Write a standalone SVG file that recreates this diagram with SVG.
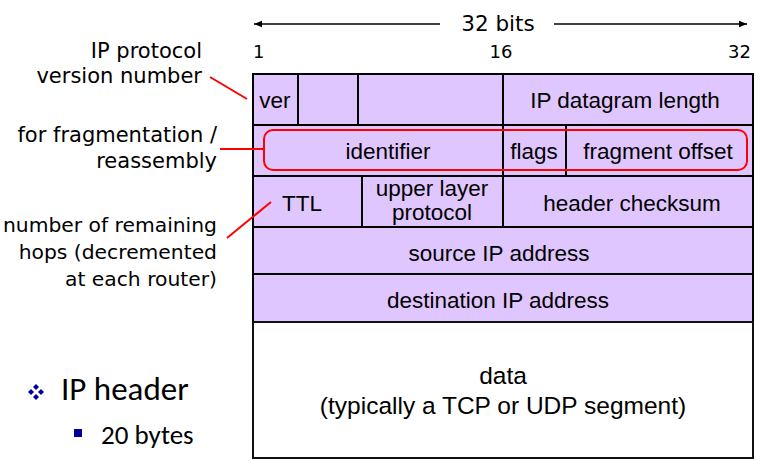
<svg xmlns="http://www.w3.org/2000/svg" width="780" height="472" viewBox="0 0 780 472">
<defs>
<marker id="ah" viewBox="0 0 10 10" refX="10" refY="5" markerWidth="10" markerHeight="8" markerUnits="userSpaceOnUse" orient="auto-start-reverse"><path d="M0,1 L10,5 L0,9 z" fill="#000"/></marker>
<style>
.cell{fill:#e0c6fe;stroke:#000;stroke-width:2}
.data{fill:#fff;stroke:#111;stroke-width:2}
.div{stroke:#000;stroke-width:2}
.t{font-family:"Liberation Sans",Arial,sans-serif;font-size:22.5px;fill:#000;text-anchor:middle}
.c{font-family:"DejaVu Sans","Comic Sans MS",sans-serif;font-size:21px;fill:#000}
.r{text-anchor:end}
.s{font-size:20.3px}
.red{stroke:#f00;stroke-width:2;fill:none}
.b{font-family:Carlito,Calibri,"Open Sans",sans-serif;fill:#000}
</style>
</defs>
<rect width="780" height="472" fill="#fff"/>

<g id="scale">
<line x1="254" y1="24" x2="440" y2="24" stroke="#000" stroke-width="1.5" marker-start="url(#ah)"/>
<line x1="554" y1="24" x2="747" y2="24" stroke="#000" stroke-width="1.5" marker-end="url(#ah)"/>
<text class="c" x="498" y="31" text-anchor="middle" style="font-size:21.5px">32 bits</text>
<text class="c" x="253" y="58" style="font-size:18px">1</text>
<text class="c" x="501" y="58" text-anchor="middle" style="font-size:18px">16</text>
<text class="c" x="751" y="58" text-anchor="end" style="font-size:18px">32</text>
</g>

<g id="row1">
<rect class="cell" x="253" y="74" width="500" height="51"/>
<line class="div" x1="298" y1="74" x2="298" y2="125"/>
<line class="div" x1="358" y1="74" x2="358" y2="125"/>
<line class="div" x1="503" y1="74" x2="503" y2="125"/>
<text class="t" x="275" y="108">ver</text>
<text class="t" x="625" y="108">IP datagram length</text>
</g>
<g id="row2">
<rect class="cell" x="253" y="125" width="500" height="51"/>
<line class="div" x1="503" y1="125" x2="503" y2="176"/>
<line class="div" x1="566" y1="125" x2="566" y2="176"/>
<text class="t" x="388" y="159">identifier</text>
<text class="t" x="534" y="159">flags</text>
<text class="t" x="658" y="159">fragment offset</text>
</g>
<g id="row3">
<rect class="cell" x="253" y="176" width="500" height="51"/>
<line class="div" x1="362" y1="176" x2="362" y2="227"/>
<line class="div" x1="503" y1="176" x2="503" y2="227"/>
<text class="t" x="302" y="211">TTL</text>
<text class="t" x="432" y="196">upper layer</text>
<text class="t" x="432" y="220">protocol</text>
<text class="t" x="632" y="211">header checksum</text>
</g>
<g id="row4">
<rect class="cell" x="253" y="227" width="500" height="47"/>
<text class="t" x="499" y="261">source IP address</text>
</g>
<g id="row5">
<rect class="cell" x="253" y="274" width="500" height="48"/>
<text class="t" x="498" y="308">destination IP address</text>
</g>
<g id="data">
<rect class="data" x="253" y="322" width="500" height="136"/>
<text class="t" x="503" y="384" style="font-size:24.5px">data</text>
<text class="t" x="503" y="414" style="font-size:24.5px">(typically a TCP or UDP segment)</text>
</g>

<g id="frag-box">
<rect class="red" x="264" y="130" width="483" height="40" rx="9"/>
</g>

<g id="labels">
<text class="c r" x="202" y="58">IP protocol</text>
<text class="c r" x="202" y="83">version number</text>
<text class="c r" x="217" y="142">for fragmentation /</text>
<text class="c r" x="217" y="168">reassembly</text>
<text class="c r s" x="217" y="232">number of remaining</text>
<text class="c r s" x="217" y="259">hops (decremented</text>
<text class="c r s" x="217" y="286">at each router)</text>
</g>

<g id="connectors">
<line class="red" x1="210" y1="77" x2="247" y2="99"/>
<line class="red" x1="220" y1="149" x2="264" y2="149"/>
<line class="red" x1="227" y1="238" x2="271" y2="202"/>
</g>

<g id="bullets">
<g fill="#0000a0">
<path d="M36,384 l3,3 l-3,3 l-3,-3z"/>
<path d="M36,394 l3,3 l-3,3 l-3,-3z"/>
<path d="M31,389 l3,3 l-3,3 l-3,-3z"/>
<path d="M41,389 l3,3 l-3,3 l-3,-3z"/>
</g>
<text class="b" x="61" y="400" style="font-size:33px">IP header</text>
<rect x="74" y="429" width="8" height="8" fill="#000099"/>
<text class="b" x="101" y="444" style="font-size:27px">20 bytes</text>
</g>
</svg>
